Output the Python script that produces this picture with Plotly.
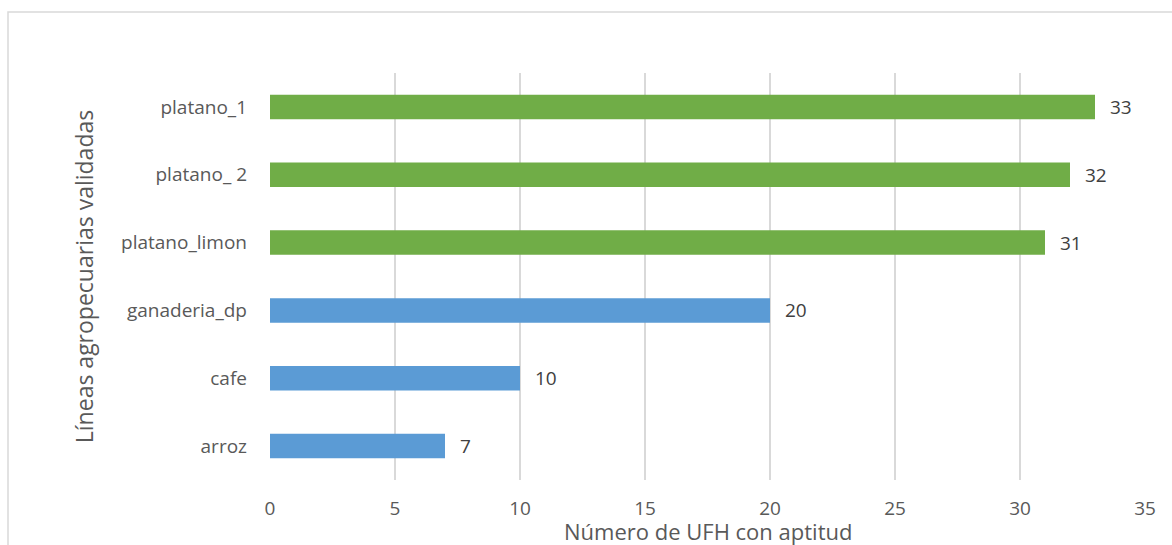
import plotly.graph_objects as go

categories = ["arroz", "cafe", "ganaderia_dp", "platano_limon", "platano_ 2", "platano_1"]
values = [7, 10, 20, 31, 32, 33]
colors = ["#5B9BD5", "#5B9BD5", "#5B9BD5", "#70AD47", "#70AD47", "#70AD47"]
x_ticks = [0, 5, 10, 15, 20, 25, 30, 35]
x_title = "Número de UFH con aptitud"
y_title = "Líneas agropecuarias validadas"

FONT = "'Open Sans', sans-serif"

fig = go.Figure()
fig.add_trace(go.Bar(
    y=categories, x=values, orientation="h",
    marker=dict(color=colors, line=dict(width=0)),
    width=0.36, hoverinfo="x+y",
))

for c, v in zip(categories, values):
    fig.add_annotation(x=v, y=c, text=str(v), showarrow=False, xanchor="left",
                       xshift=13, font=dict(size=19, color="#404040", family=FONT))

L, R, T, B = 270, 27, 73, 65
W, H = 1172, 545
pw, ph = W - L - R, H - T - B

def px(x):
    return (x - L) / pw

def py(y):
    return 1 - (y - T) / ph

fig.add_annotation(text=x_title, xref="paper", yref="paper", x=0.5, y=py(531),
                   xanchor="center", yanchor="middle", showarrow=False,
                   font=dict(size=22, color="#595959", family=FONT))

fig.add_shape(type="rect", xref="paper", yref="paper",
              x0=px(8), x1=px(1185), y0=py(560), y1=py(12),
              line=dict(color="#D9D9D9", width=1.5), fillcolor="rgba(0,0,0,0)", layer="below")

fig.update_layout(
    width=W, height=H,
    margin=dict(l=L, r=R, t=T, b=B),
    paper_bgcolor="white", plot_bgcolor="white",
    showlegend=False,
    font=dict(family=FONT, color="#595959", size=19),
    xaxis=dict(
        range=[0, 35], tickvals=x_ticks, showgrid=True, gridcolor="#D9D9D9", gridwidth=1.5,
        zeroline=False, showline=False, ticks="", ticklabelstandoff=15,
        tickfont=dict(size=19, color="#595959"),
        automargin=False,
        fixedrange=True,
    ),
    yaxis=dict(
        categoryorder="array", categoryarray=categories,
        showgrid=False, zeroline=False, showline=False, ticks="", ticklabelstandoff=22,
        tickfont=dict(size=19, color="#595959"),
        title=dict(text=y_title, font=dict(size=23, color="#595959"), standoff=20),
        automargin=False,
        range=[-0.5, 5.5], fixedrange=True,
    ),
    bargap=0.64,
)

fig.write_html("out.html")
